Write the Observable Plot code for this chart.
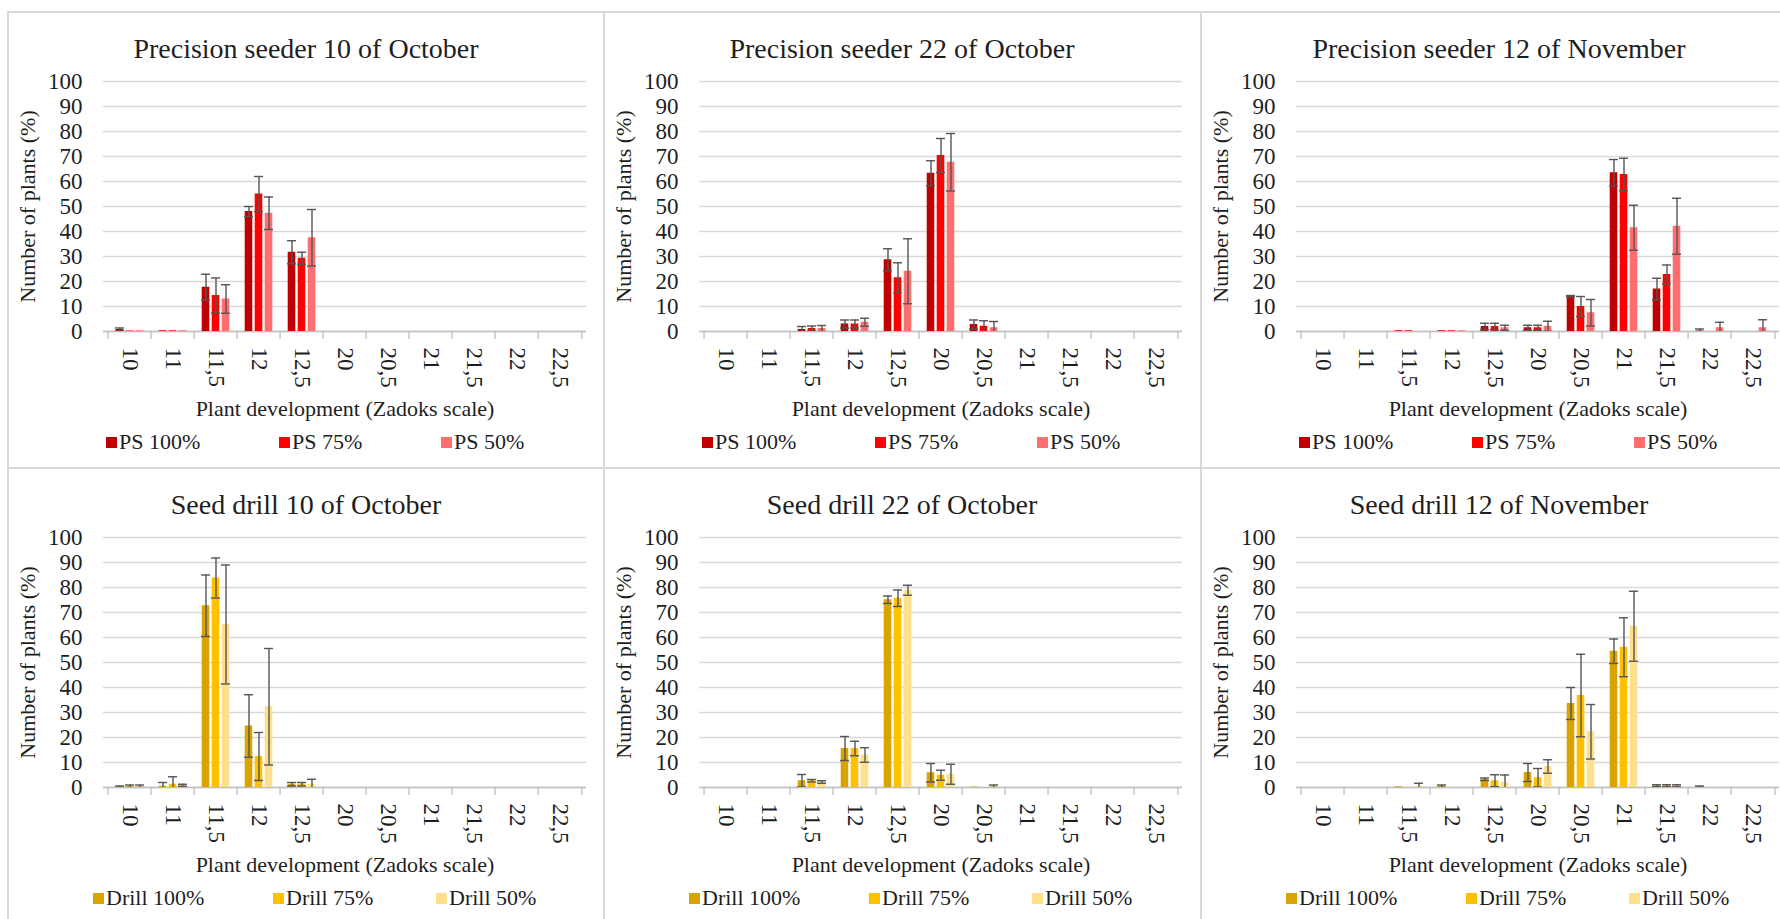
<!DOCTYPE html>
<html><head><meta charset="utf-8">
<script src="https://cdn.jsdelivr.net/npm/d3@7"></script>
<script src="https://cdn.jsdelivr.net/npm/@observablehq/plot@0.6"></script>
<style>
body{margin:0;background:#fff;}
#root{position:relative;width:1780px;height:919px;overflow:hidden;background:#fff;font-family:"Liberation Serif","Times New Roman",serif;color:#1e1e1e;}
.line{position:absolute;background:#d9d9d9;}
.panel{position:absolute;width:596px;height:456px;}
.title{position:absolute;left:0;top:22.5px;width:596px;text-align:center;font-size:28px;line-height:28px;white-space:nowrap;}
.plotwrap{position:absolute;left:0;top:52px;}
.legend{position:absolute;left:0;top:419px;height:22px;width:596px;}
.item{position:absolute;top:0;display:flex;align-items:center;font-size:22px;line-height:22px;white-space:nowrap;}
.sw{width:11px;height:11px;margin-right:2px;display:inline-block;}
</style></head><body><div id="root"></div>
<script>
// ---- categories & tick labels ----
const categories = ["10","11","11,5","12","12,5","20","20,5","21","21,5","22","22,5"];
const yTicks = [0,10,20,30,40,50,60,70,80,90,100];
const xTitle = "Plant development (Zadoks scale)";
const yTitle = "Number of plants (%)";
const titles = ["Precision seeder 10 of October","Precision seeder 22 of October","Precision seeder 12 of November",
                "Seed drill 10 of October","Seed drill 22 of October","Seed drill 12 of November"];
const psSeries = ["PS 100%","PS 75%","PS 50%"];
const drillSeries = ["Drill 100%","Drill 75%","Drill 50%"];
const psColors = ["#c00000","#ff0000","#ff6f6f"];
const drillColors = ["#d9a400","#ffc000","#ffe08a"];

// ---- means (rows: 100%, 75%, 50%) and error bars ----
const psOct10 = [
  [0.8,0.3,17.7,48.0,31.7,0,0,0,0,0,0],
  [0.2,0.3,14.4,55.0,29.3,0,0,0,0,0,0],
  [0.3,0.3,13.0,47.3,37.5,0,0,0,0,0,0]];
const psOct10Err = [
  [0.6,0,5.2,2.0,4.6,0,0,0,0,0,0],
  [0,0,7.0,7.0,2.4,0,0,0,0,0,0],
  [0,0,5.7,6.5,11.3,0,0,0,0,0,0]];
const psOct22 = [
  [0,0,0.8,3.0,28.7,63.3,2.8,0,0,0,0],
  [0,0,1.2,3.0,21.5,70.4,2.1,0,0,0,0],
  [0,0,1.2,3.7,24.1,67.7,1.5,0,0,0,0]];
const psOct22Err = [
  [0,0,1.2,1.6,4.4,5.0,1.8,0,0,0,0],
  [0,0,1.0,1.6,6.0,6.8,2.2,0,0,0,0],
  [0,0,1.2,1.6,13.0,11.5,2.5,0,0,0,0]];
const psNov12 = [
  [0,0,0.3,0.3,2.0,1.5,14.1,63.5,17.0,0.2,0],
  [0,0,0.3,0.3,2.0,1.5,10.0,62.8,22.8,0,0],
  [0,0,0,0.3,1.5,2.1,7.5,41.5,42.1,1.5,1.5]];
const psNov12Err = [
  [0,0,0,0,1.3,1.0,0.3,5.3,4.3,0.8,0],
  [0,0,0,0,1.3,1.0,4.0,6.5,3.8,0,0],
  [0,0,0,0,1.0,2.0,5.3,9.0,11.2,2.2,3.2]];
const drillOct10 = [
  [0.3,0.5,72.7,24.6,1.3,0,0,0,0,0,0],
  [0.5,1.3,83.8,12.4,1.3,0,0,0,0,0,0],
  [0.5,0.9,65.2,32.3,1.3,0,0,0,0,0,0]];
const drillOct10Err = [
  [0.3,1.5,12.3,12.5,0.7,0,0,0,0,0,0],
  [0.5,3.0,8.0,9.6,0.7,0,0,0,0,0,0],
  [0.5,0.4,23.8,23.3,2.0,0,0,0,0,0,0]];
const drillOct22 = [
  [0,0,2.7,15.6,75.1,5.9,0.2,0,0,0,0],
  [0,0,2.7,15.6,75.7,4.9,0,0,0,0,0],
  [0,0,2.2,13.0,78.9,5.3,0.5,0,0,0,0]];
const drillOct22Err = [
  [0,0,2.5,4.8,1.5,3.7,0,0,0,0,0],
  [0,0,0.5,2.9,3.3,2.0,0,0,0,0,0],
  [0,0,0.5,2.9,2.0,4.0,0.5,0,0,0,0]];
const drillNov12 = [
  [0,0,0.3,0.5,3.3,6.0,33.6,54.5,0.7,0.3,0],
  [0,0,0,0,2.7,3.9,36.8,56.1,0.7,0,0],
  [0,0,0.5,0,2.0,8.4,22.3,64.5,0.7,0,0]];
const drillNov12Err = [
  [0,0,0,0.5,0.5,3.6,6.4,4.9,0.4,0.3,0],
  [0,0,0,0,2.4,3.7,16.5,11.8,0.4,0,0],
  [0,0,1.2,0,3.0,2.7,10.9,14.0,0.4,0,0]];

const panels = [
  {title: titles[0], means: psOct10, errs: psOct10Err, series: psSeries, colors: psColors, legendX: [98,271,433]},
  {title: titles[1], means: psOct22, errs: psOct22Err, series: psSeries, colors: psColors, legendX: [98,271,433]},
  {title: titles[2], means: psNov12, errs: psNov12Err, series: psSeries, colors: psColors, legendX: [98,271,433]},
  {title: titles[3], means: drillOct10, errs: drillOct10Err, series: drillSeries, colors: drillColors, legendX: [85,265,428]},
  {title: titles[4], means: drillOct22, errs: drillOct22Err, series: drillSeries, colors: drillColors, legendX: [85,265,428]},
  {title: titles[5], means: drillNov12, errs: drillNov12Err, series: drillSeries, colors: drillColors, legendX: [85,265,428]}
];

function makePlot(p) {
  const W = 596, H = 367, mL = 95, mR = 18, mT = 17, mB = 100;
  const bw = (W - mL - mR) / categories.length;
  const barW = 8.5, step = 10, capW = 10;
  const rows = [];
  p.series.forEach((s, i) => categories.forEach((c, j) =>
    rows.push({cat: c, series: s, k: i, v: p.means[i][j], e: p.errs[i][j]})));
  const marks = [
    Plot.gridY(yTicks, {stroke: "#d9d9d9", strokeOpacity: 1, strokeWidth: 1.3}),
    Plot.axisY(yTicks, {tickSize: 0, tickPadding: 21, fontSize: 23, label: null}),
    Plot.axisX({tickSize: 0, tickPadding: 16, tickRotate: 90, fontSize: 23, label: null}),
    Plot.ruleY([0], {stroke: "#bfbfbf", strokeWidth: 1.3}),
    Plot.axisX({tickSize: 8, tickFormat: () => "", dx: -bw / 2, stroke: "#bfbfbf", strokeWidth: 1.3, label: null}),
    Plot.axisX([categories[categories.length - 1]], {tickSize: 8, tickFormat: () => "", dx: bw / 2, stroke: "#bfbfbf", strokeWidth: 1.3, label: null})
  ];
  p.series.forEach((s, i) => {
    const d = rows.filter(r => r.k === i);
    const off = (i - 1) * step;
    marks.push(Plot.barY(d, {x: "cat", y: "v", fill: "series", dx: off,
      insetLeft: (bw - barW) / 2, insetRight: (bw - barW) / 2}));
  });
  p.series.forEach((s, i) => {
    const de = rows.filter(r => r.k === i && r.e > 0);
    const off = (i - 1) * step;
    const st = {stroke: "#555555", strokeWidth: 1.4, clip: true};
    marks.push(Plot.ruleX(de, {x: "cat", y1: r => r.v - r.e, y2: r => r.v + r.e, dx: off, ...st}));
    marks.push(Plot.tickY(de, {x: "cat", y: r => r.v + r.e, dx: off, insetLeft: (bw - capW) / 2, insetRight: (bw - capW) / 2, ...st}));
    marks.push(Plot.tickY(de, {x: "cat", y: r => r.v - r.e, dx: off, insetLeft: (bw - capW) / 2, insetRight: (bw - capW) / 2, ...st}));
  });
  marks.push(Plot.text([xTitle], {text: d => d, frameAnchor: "bottom", textAnchor: "middle", lineAnchor: "middle", dy: 77, fontSize: 22, fill: "#1e1e1e"}));
  marks.push(Plot.text([yTitle], {text: d => d, frameAnchor: "left", textAnchor: "middle", lineAnchor: "middle", rotate: -90, dx: -76, fontSize: 22, fill: "#1e1e1e"}));
  return Plot.plot({
    width: W, height: H, marginLeft: mL, marginRight: mR, marginTop: mT, marginBottom: mB,
    x: {domain: categories, padding: 0, label: null},
    y: {domain: [0, 100], label: null},
    color: {domain: p.series, range: p.colors},
    style: {fontFamily: "Liberation Serif, Times New Roman, serif", color: "#1e1e1e", background: "transparent", overflow: "visible"},
    marks
  });
}

const root = document.getElementById("root");
function addLine(l, t, w, h) {
  const d = document.createElement("div");
  d.className = "line";
  Object.assign(d.style, {left: l + "px", top: t + "px", width: w + "px", height: h + "px"});
  root.appendChild(d);
}
const lefts = [8, 604, 1201], tops = [12, 468];
addLine(7, 11, 1773, 2); addLine(7, 467, 1773, 2);
lefts.forEach(l => addLine(l - 1, 11, 2, 908));

panels.forEach((p, idx) => {
  const panel = document.createElement("div");
  panel.className = "panel";
  panel.style.left = lefts[idx % 3] + "px";
  panel.style.top = tops[Math.floor(idx / 3)] + "px";
  const t = document.createElement("div");
  t.className = "title"; t.textContent = p.title;
  panel.appendChild(t);
  const w = document.createElement("div");
  w.className = "plotwrap";
  w.appendChild(makePlot(p));
  panel.appendChild(w);
  const lg = document.createElement("div");
  lg.className = "legend";
  p.series.forEach((s, i) => {
    const it = document.createElement("div");
    it.className = "item"; it.style.left = p.legendX[i] + "px";
    const sw = document.createElement("span");
    sw.className = "sw"; sw.style.background = p.colors[i];
    const tx = document.createElement("span"); tx.textContent = s;
    it.appendChild(sw); it.appendChild(tx);
    lg.appendChild(it);
  });
  panel.appendChild(lg);
  root.appendChild(panel);
});
</script></body></html>
